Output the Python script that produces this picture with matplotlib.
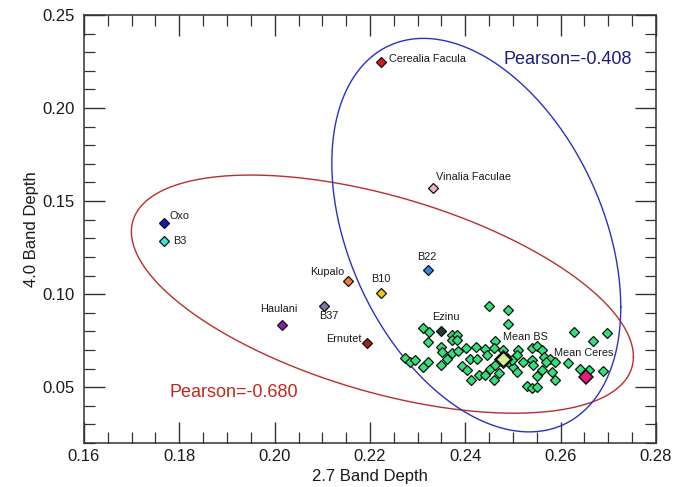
import numpy as np
import matplotlib
matplotlib.use("Agg")
import matplotlib.pyplot as plt
from matplotlib.ticker import MultipleLocator, FormatStrFormatter

plt.rcParams['font.family'] = ['Liberation Sans', 'DejaVu Sans']

# ---- data ----
green_x = [0.2450, 0.2490, 0.2490, 0.2312, 0.2323, 0.2371, 0.2382, 0.2373, 0.2382, 0.2322,
           0.2462, 0.2629, 0.2698, 0.2668, 0.2350, 0.2401, 0.2422, 0.2441, 0.2461, 0.2510,
           0.2539, 0.2550, 0.2560, 0.2352, 0.2371, 0.2385, 0.2273, 0.2284, 0.2294, 0.2322,
           0.2361, 0.2410, 0.2424, 0.2445, 0.2508, 0.2539, 0.2564, 0.2578, 0.2588, 0.2616,
           0.2569, 0.2312, 0.2350, 0.2392, 0.2403, 0.2452, 0.2471, 0.2501, 0.2508, 0.2520,
           0.2543, 0.2560, 0.2581, 0.2641, 0.2660, 0.2688, 0.2429, 0.2441, 0.2460, 0.2411,
           0.2550, 0.2588, 0.2529, 0.2539, 0.2550, 0.2483, 0.2489, 0.2498, 0.2462, 0.2479]
green_y = [0.0937, 0.0914, 0.0837, 0.0819, 0.0797, 0.0780, 0.0780, 0.0756, 0.0756, 0.0744,
           0.0747, 0.0797, 0.0789, 0.0747, 0.0717, 0.0708, 0.0717, 0.0704, 0.0708, 0.0699,
           0.0708, 0.0720, 0.0699, 0.0690, 0.0684, 0.0695, 0.0658, 0.0636, 0.0645, 0.0636,
           0.0654, 0.0654, 0.0654, 0.0672, 0.0672, 0.0645, 0.0663, 0.0654, 0.0636, 0.0631,
           0.0636, 0.0606, 0.0618, 0.0613, 0.0591, 0.0595, 0.0577, 0.0606, 0.0582, 0.0636,
           0.0618, 0.0591, 0.0582, 0.0595, 0.0591, 0.0588, 0.0565, 0.0565, 0.0541, 0.0538,
           0.0559, 0.0538, 0.0505, 0.0493, 0.0502, 0.0667, 0.0634, 0.0645, 0.0618, 0.0699]

names = ['Cerealia Facula', 'Vinalia Faculae', 'Oxo', 'B3', 'B22', 'Kupalo', 'B10',
         'B37', 'Haulani', 'Ernutet', 'Ezinu', 'Mean BS', 'Mean Ceres']
name_x = [0.2223, 0.2332, 0.1768, 0.1768, 0.2322, 0.2154, 0.2223,
          0.2104, 0.2016, 0.2194, 0.2350, 0.2480, 0.2653]
name_y = [0.2246, 0.1572, 0.1380, 0.1287, 0.1129, 0.1070, 0.1007,
          0.0937, 0.0833, 0.0735, 0.0803, 0.0654, 0.0552]
name_colors = ['#e3141c', '#f2b3bf', '#0a1ec8', '#3ee0e0', '#2a8ce8', '#ee7d3a', '#f5c816',
               '#7a7aa6', '#8a1eae', '#9a2620', '#1e3d2a', '#d2f08c', '#e8187f']

# confidence ellipses: centre and conjugate semi-diameters (data units)
red_center = (0.2226, 0.1000)
red_u = (0.05266, -0.03360)
red_v = (0.0, 0.05446)
blue_center = (0.2423, 0.1317)
blue_u = (0.03031, -0.03871)
blue_v = (0.0, 0.09839)

pearson_red = 'Pearson=-0.680'
pearson_blue = 'Pearson=-0.408'

# ---- styling ----
label_style = {
    'Cerealia Facula': ((6, 2), 'left'),
    'Vinalia Faculae': ((2.4, 7.4), 'left'),
    'Oxo': ((4.1, 5.5), 'left'),
    'B3': ((6.5, 0), 'left'),
    'B22': ((-0.7, 9.6), 'center'),
    'Kupalo': ((-2.4, 6.3), 'right'),
    'B10': ((0, 9.6), 'center'),
    'B37': ((3.4, -7.4), 'center'),
    'Haulani': ((-2.6, 12), 'center'),
    'Ernutet': ((-3.8, 3.1), 'right'),
    'Ezinu': ((3.1, 10.1), 'center'),
    'Mean BS': ((15.8, 15.6), 'center'),
    'Mean Ceres': ((-1.9, 17.3), 'center'),
}
marker_size = {'Mean BS': 8.0, 'Mean Ceres': 7.2}
marker_lw = {'Mean BS': 1.8, 'Mean Ceres': 1.1}

fig = plt.figure(figsize=(6.81, 4.87), dpi=100)
ax = fig.add_axes([84/681, 1-443/487, (656-84)/681, (443-15)/487])

t = np.linspace(0, 2*np.pi, 400)
for c, u, v, col in [(red_center, red_u, red_v, '#b8302a'),
                     (blue_center, blue_u, blue_v, '#2a32c4')]:
    ex = c[0] + u[0]*np.cos(t) + v[0]*np.sin(t)
    ey = c[1] + u[1]*np.cos(t) + v[1]*np.sin(t)
    ax.plot(ex, ey, color=col, lw=1.0, zorder=2)

ax.plot(green_x, green_y, linestyle='none', marker='D', markersize=5.0,
        markerfacecolor='#2fe27a', markeredgecolor='#111111', markeredgewidth=0.9, zorder=3)

for n, x, y, col in zip(names, name_x, name_y, name_colors):
    ms = marker_size.get(n, 4.6)
    mlw = marker_lw.get(n, 0.9)
    ax.plot([x], [y], linestyle='none', marker='D', markersize=ms,
            markerfacecolor=col, markeredgecolor='#111111', markeredgewidth=mlw, zorder=4)
    off, ha = label_style[n]
    ax.annotate(n, (x, y), xytext=off, textcoords='offset points', ha=ha, va='center',
                fontsize=7.8, color='#1a1a1a', zorder=5)

ax.text(0.2615, 0.2237, pearson_blue, color='#1c1c84', fontsize=13, ha='center', va='baseline')
ax.text(0.1915, 0.0445, pearson_red, color='#c0281e', fontsize=13, ha='center', va='baseline')

ax.set_xlim(0.16, 0.28)
ax.set_ylim(0.02, 0.25)
ax.xaxis.set_major_locator(MultipleLocator(0.02))
ax.xaxis.set_minor_locator(MultipleLocator(0.005))
ax.yaxis.set_major_locator(MultipleLocator(0.05))
ax.yaxis.set_minor_locator(MultipleLocator(0.01))
ax.xaxis.set_major_formatter(FormatStrFormatter('%.2f'))
ax.yaxis.set_major_formatter(FormatStrFormatter('%.2f'))
ax.tick_params(which='both', direction='in', top=True, right=True, colors='#333333',
               labelcolor='#1a1a1a', labelsize=12)
ax.tick_params(which='major', length=14.9, width=1.0)
ax.tick_params(which='minor', length=7.7, width=0.9)
ax.tick_params(axis='x', which='major', pad=4)
ax.tick_params(axis='y', which='major', pad=7)
for s in ax.spines.values():
    s.set_color('#333333')
    s.set_linewidth(1.1)

ax.set_xlabel('2.7 Band Depth', fontsize=12, color='#1a1a1a', labelpad=4)
ax.set_ylabel('4.0 Band Depth', fontsize=12, color='#1a1a1a', labelpad=2)

fig.savefig('out.png', dpi=100)
